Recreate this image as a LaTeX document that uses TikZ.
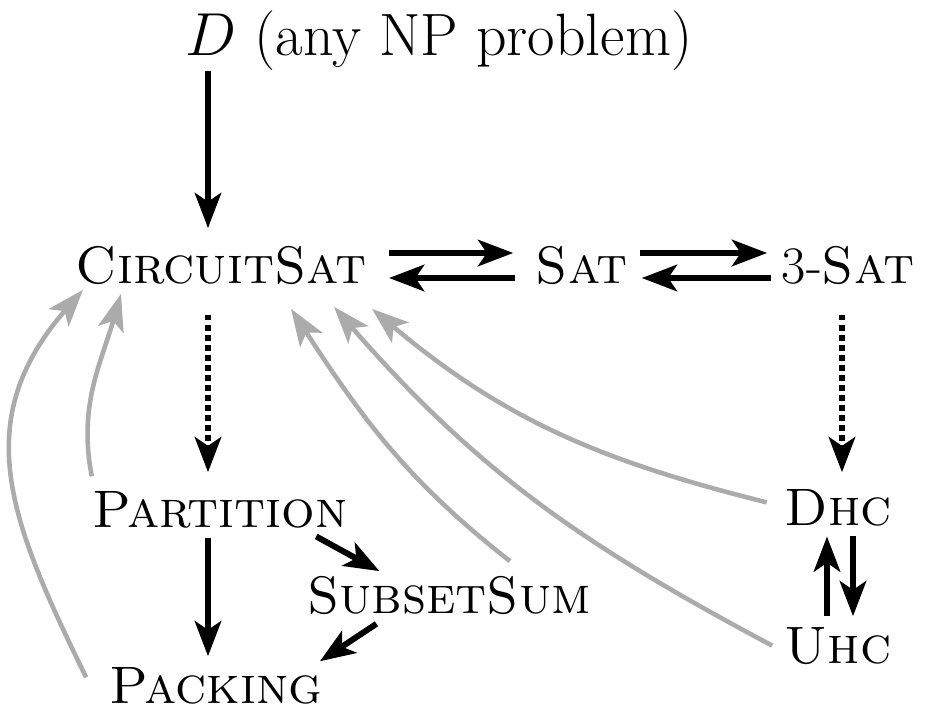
\documentclass[tikz,border=0pt]{standalone}
\usepackage{tikz}
\usetikzlibrary{arrows.meta}

\begin{document}
\begin{tikzpicture}[
    every node/.style={inner sep=0pt, anchor=base, font=\fontsize{15}{18}\selectfont},
    red/.style={line width=1.7pt, -{Stealth[length=10pt, width=7.5pt, inset=2.5pt]}},
    weak/.style={red, dash pattern=on 1.6pt off 1.25pt},
    back/.style={line width=1.3pt, draw=black!33, -{Stealth[length=10.5pt, width=7.5pt, inset=2.5pt]}}
  ]
    \useasboundingbox (0,0) rectangle (9.26,7.15);

    \node[font=\fontsize{17}{20}\selectfont] (d) at (4.39,6.60) {\(D\) (any NP problem)};
    \node (cs) at (2.21,4.32) {\textsc{CircuitSat}};
    \node (sat) at (5.82,4.32) {\textsc{Sat}};
    \node (tsat) at (8.48,4.32) {3-\textsc{Sat}};
    \node (part) at (2.20,1.88) {\textsc{Partition}};
    \node (ssum) at (4.49,1.02) {\textsc{SubsetSum}};
    \node (pack) at (2.16,0.12) {\textsc{Packing}};
    \node (dhc) at (8.38,1.90) {\textsc{Dhc}};
    \node (uhc) at (8.38,0.52) {\textsc{Uhc}};

    \coordinate (colA) at (2.08,0);
    \coordinate (colB) at (8.42,0);

    \draw[red, shorten >=0.17cm] (d.south -| colA) -- (cs.north -| colA); % D to CircuitSat.
    \draw[red, shorten <=0.22cm, shorten >=0.22cm] ([yshift=0.12cm]cs.east) -- ([yshift=0.12cm]sat.west);
    \draw[red, shorten <=0.2cm, shorten >=0.22cm] ([yshift=-0.13cm]sat.west) -- ([yshift=-0.13cm]cs.east);
    \draw[red, shorten <=0.11cm, shorten >=0.14cm] ([yshift=0.12cm]sat.east) -- ([yshift=0.12cm]tsat.west);
    \draw[red, shorten <=0.1cm, shorten >=0.13cm] ([yshift=-0.13cm]tsat.west) -- ([yshift=-0.13cm]sat.east);

    \draw[weak, shorten <=0.3cm, shorten >=0.18cm] (cs.south -| colA) -- (part.north -| colA);
    \draw[weak, shorten <=0.3cm, shorten >=0.16cm] (tsat.south -| colB) -- (dhc.north -| colB);

    \draw[red, shorten <=0.1cm, shorten >=0.1cm] (part.south -| colA) -- (pack.north -| colA);
    \draw[red] ([xshift=-0.32cm,yshift=-0.08cm]part.south east) -- ([xshift=0.73cm,yshift=0.04cm]ssum.north west);
    \draw[red] ([xshift=0.70cm,yshift=-0.09cm]ssum.south west) -- ([xshift=-0.03cm,yshift=0.05cm]pack.north east);
    \draw[red, shorten <=0.1cm, shorten >=0.1cm] ([xshift=0.15cm]dhc.south) -- ([xshift=0.15cm]uhc.north);
    \draw[red, shorten <=0.1cm, shorten >=0.1cm] ([xshift=-0.11cm]uhc.north) -- ([xshift=-0.11cm]dhc.south);

    % Everything back to CircuitSat.
    \draw[back] ([xshift=-0.23cm,yshift=0.08cm]pack.west) to[out=116, in=229, looseness=1.15] ([xshift=0.08cm,yshift=-0.05cm]cs.south west);
    \draw[back] ([yshift=0.14cm]part.north west) to[out=101, in=254] ([xshift=0.46cm,yshift=-0.09cm]cs.south west);
    \draw[back] ([xshift=0.61cm,yshift=0.14cm]ssum.north) to[out=142, in=303] ([xshift=-0.76cm,yshift=-0.24cm]cs.south east);
    \draw[back] ([xshift=-0.12cm]uhc.west) to[out=152, in=311] ([xshift=-0.33cm,yshift=-0.22cm]cs.south east);
    \draw[back] ([xshift=-0.17cm,yshift=0.05cm]dhc.west) to[out=166, in=320] ([xshift=0.05cm,yshift=-0.24cm]cs.south east);
\end{tikzpicture}
\end{document}
